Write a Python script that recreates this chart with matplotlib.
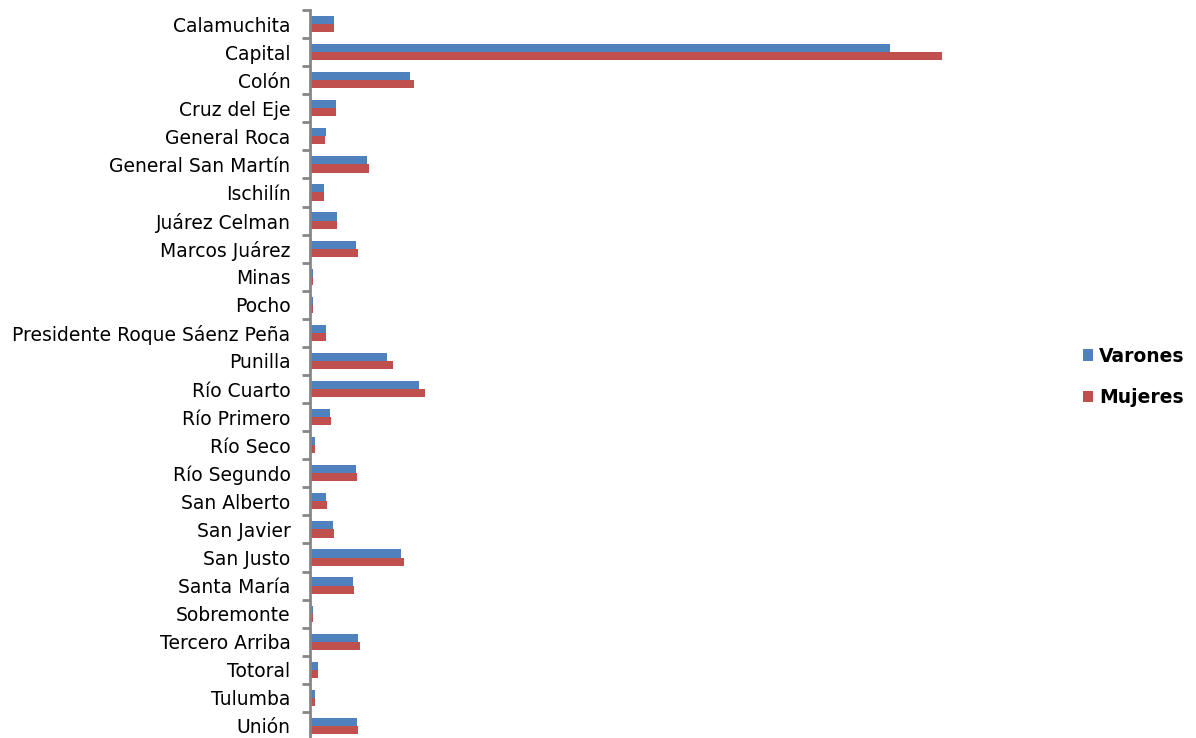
import matplotlib
matplotlib.use("Agg")
import matplotlib.pyplot as plt
import numpy as np

# Población por departamento (miles de habitantes)
departamentos = [
    "Calamuchita", "Capital", "Colón", "Cruz del Eje", "General Roca",
    "General San Martín", "Ischilín", "Juárez Celman", "Marcos Juárez",
    "Minas", "Pocho", "Presidente Roque Sáenz Peña", "Punilla", "Río Cuarto",
    "Río Primero", "Río Seco", "Río Segundo", "San Alberto", "San Javier",
    "San Justo", "Santa María", "Sobremonte", "Tercero Arriba", "Totoral",
    "Tulumba", "Unión",
]
varones = [26.5, 636.0, 110.0, 28.5, 17.5, 62.5, 15.0, 29.5, 50.5, 3.2, 3.2,
           17.5, 84.5, 119.5, 22.0, 6.0, 50.5, 18.0, 25.5, 100.0, 47.5, 3.0,
           52.5, 9.0, 6.0, 51.5]
mujeres = [26.5, 694.0, 114.0, 28.5, 17.0, 64.5, 15.5, 29.5, 52.5, 3.0, 3.2,
           17.5, 91.5, 126.5, 22.5, 5.5, 51.5, 18.5, 26.5, 103.5, 48.5, 3.0,
           55.0, 9.0, 5.5, 52.5]

fig = plt.figure(figsize=(11.96, 7.38), dpi=100)
ax = fig.add_axes([310 / 1196, -2 / 738, 740 / 1196, 730 / 738])

n = len(departamentos)
y = np.arange(n)
h = 0.29
ax.barh(y - h / 2, varones, height=h, color="#4F81BD", label="Varones", zorder=2)
ax.barh(y + h / 2, mujeres, height=h, color="#C0504D", label="Mujeres", zorder=2)

ax.set_ylim(n - 0.5, -0.5)
ax.set_xlim(0, 812)

for s in ["top", "right", "bottom"]:
    ax.spines[s].set_visible(False)
ax.spines["left"].set_color("#868686")
ax.spines["left"].set_linewidth(2)
ax.spines["left"].set_zorder(4)

ax.set_xticks([])
ax.set_yticks(np.arange(-0.5, n, 1.0))
ax.set_yticklabels([])
ax.tick_params(axis="y", which="major", length=6, width=2, color="#868686")
ax.set_yticks(y, minor=True)
ax.set_yticklabels(departamentos, minor=True)
ax.tick_params(axis="y", which="minor", length=0, pad=14, labelsize=13.5,
               labelcolor="black")

leg = ax.legend(loc="center left", bbox_to_anchor=(1066 / 1196, 361 / 738),
                bbox_transform=fig.transFigure, frameon=False,
                handlelength=0.55, handleheight=0.55, handletextpad=0.3,
                labelspacing=1.2, prop={"weight": "bold", "size": 13.5})

fig.savefig("out.png", dpi=100)
